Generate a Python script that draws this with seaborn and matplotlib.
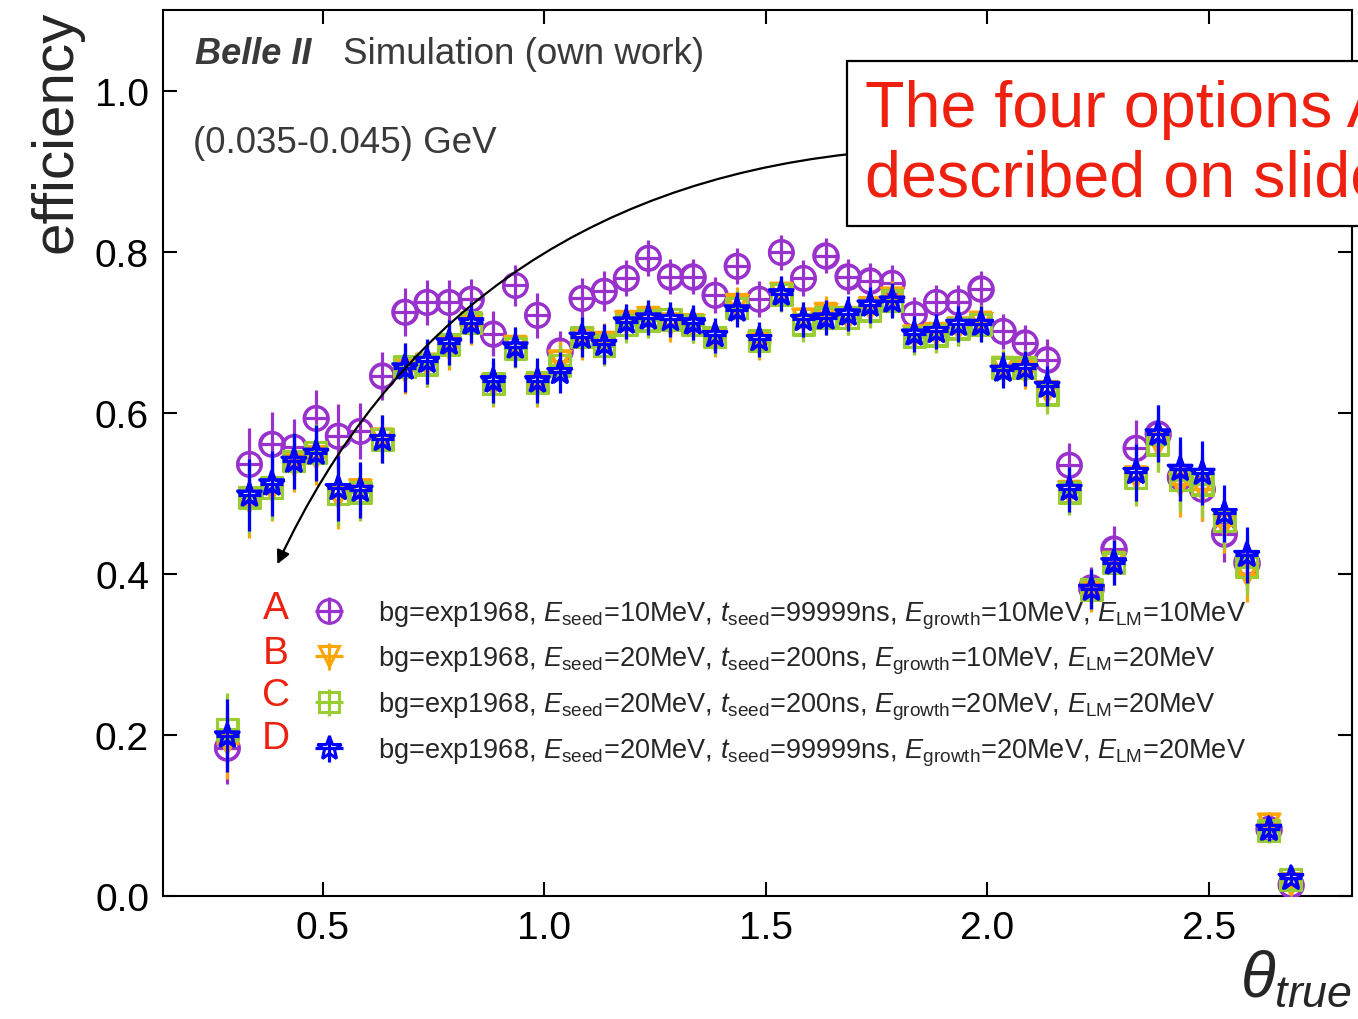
import numpy as np
import pandas as pd
import matplotlib
matplotlib.use("Agg")
import matplotlib.pyplot as plt
import seaborn as sns

# ---------------- data ----------------
theta = [0.285 + 0.05 * i for i in range(49)]

eff_A = [0.184, 0.536, 0.561, 0.557, 0.593, 0.571, 0.577, 0.646, 0.725, 0.737,
         0.737, 0.741, 0.698, 0.758, 0.721, 0.677, 0.742, 0.751, 0.767, 0.792,
         0.769, 0.769, 0.746, 0.782, 0.741, 0.799, 0.767, 0.795, 0.769, 0.764,
         0.761, 0.722, 0.737, 0.737, 0.754, 0.701, 0.687, 0.666, 0.535, 0.383,
         0.431, 0.556, 0.574, 0.520, 0.505, 0.450, 0.414, 0.083, 0.014]
eff_B = [0.190, 0.490, 0.505, 0.536, 0.545, 0.496, 0.504, 0.567, 0.653, 0.660,
         0.681, 0.709, 0.635, 0.682, 0.635, 0.664, 0.691, 0.687, 0.713, 0.718,
         0.710, 0.709, 0.691, 0.734, 0.687, 0.748, 0.716, 0.723, 0.718, 0.730,
         0.742, 0.695, 0.698, 0.705, 0.712, 0.656, 0.652, 0.626, 0.502, 0.378,
         0.414, 0.520, 0.561, 0.511, 0.505, 0.461, 0.400, 0.089, 0.015]
eff_C = [0.207, 0.495, 0.507, 0.540, 0.551, 0.499, 0.501, 0.567, 0.657, 0.660,
         0.685, 0.712, 0.636, 0.680, 0.638, 0.659, 0.694, 0.683, 0.709, 0.715,
         0.716, 0.709, 0.694, 0.730, 0.690, 0.747, 0.710, 0.718, 0.718, 0.727,
         0.739, 0.694, 0.696, 0.705, 0.710, 0.656, 0.656, 0.623, 0.501, 0.381,
         0.414, 0.519, 0.561, 0.517, 0.511, 0.466, 0.409, 0.081, 0.021]
eff_D = [0.199, 0.498, 0.512, 0.540, 0.550, 0.506, 0.504, 0.567, 0.656, 0.664,
         0.687, 0.712, 0.640, 0.682, 0.640, 0.650, 0.694, 0.685, 0.713, 0.718,
         0.716, 0.712, 0.696, 0.728, 0.691, 0.748, 0.716, 0.718, 0.723, 0.734,
         0.739, 0.698, 0.701, 0.710, 0.710, 0.653, 0.655, 0.633, 0.505, 0.381,
         0.414, 0.526, 0.574, 0.530, 0.525, 0.475, 0.423, 0.083, 0.022]
err = [0.045, 0.045, 0.040, 0.035, 0.035, 0.040, 0.035, 0.030, 0.030, 0.028,
       0.028, 0.025, 0.028, 0.025, 0.028, 0.025, 0.025, 0.025, 0.022, 0.022,
       0.022, 0.022, 0.022, 0.022, 0.022, 0.022, 0.022, 0.022, 0.022, 0.022,
       0.022, 0.022, 0.022, 0.022, 0.022, 0.022, 0.022, 0.025, 0.028, 0.025,
       0.028, 0.035, 0.035, 0.040, 0.040, 0.035, 0.035, 0.015, 0.008]

labels = [
    r"bg=exp1968, $E_{\rm seed}$=10MeV, $t_{\rm seed}$=99999ns, $E_{\rm growth}$=10MeV, $E_{\rm LM}$=10MeV",
    r"bg=exp1968, $E_{\rm seed}$=20MeV, $t_{\rm seed}$=200ns, $E_{\rm growth}$=10MeV, $E_{\rm LM}$=20MeV",
    r"bg=exp1968, $E_{\rm seed}$=20MeV, $t_{\rm seed}$=200ns, $E_{\rm growth}$=20MeV, $E_{\rm LM}$=20MeV",
    r"bg=exp1968, $E_{\rm seed}$=20MeV, $t_{\rm seed}$=99999ns, $E_{\rm growth}$=20MeV, $E_{\rm LM}$=20MeV",
]
letters = ["A", "B", "C", "D"]
series = [eff_A, eff_B, eff_C, eff_D]

colors = ["#9932CC", "#FFA500", "#9ACD32", "#0000FF"]
markers = ["o", "v", "s", "*"]
msizes = [17, 15, 15, 18]

# ---------------- style ----------------
sns.set_theme(style="ticks")
plt.rcParams["font.family"] = ["Liberation Sans", "DejaVu Sans"]
plt.rcParams["mathtext.fontset"] = "custom"
plt.rcParams["mathtext.rm"] = "Liberation Sans"
plt.rcParams["mathtext.it"] = "Liberation Sans:italic"
plt.rcParams["mathtext.bf"] = "Liberation Sans:bold"

fig = plt.figure(figsize=(13.58, 10.20), dpi=100)
ax = fig.add_axes([163 / 1358, 1 - 897 / 1020, (1352 - 163) / 1358, (897 - 11) / 1020])

handles = []
for k in range(4):
    df = pd.DataFrame({"theta": theta, "eff": series[k]})
    h = ax.errorbar(df["theta"], df["eff"], yerr=err, xerr=0.026, fmt=markers[k],
                    color=colors[k], mfc="none", mec=colors[k], ms=msizes[k],
                    mew=2.2, elinewidth=2.3, capsize=0, zorder=3 + k)
    sns.scatterplot(data=df, x="theta", y="eff", marker=markers[k],
                    s=msizes[k] ** 2, facecolors="none", edgecolor=colors[k],
                    color=colors[k], linewidth=2.2, ax=ax, zorder=3 + k, legend=False)
    handles.append(h)

ax.set_xlim(0.14, 2.823)
ax.set_ylim(0.0, 1.1)
ax.set_xticks([0.5, 1.0, 1.5, 2.0, 2.5])
ax.set_yticks([0.0, 0.2, 0.4, 0.6, 0.8, 1.0])
ax.tick_params(direction="in", length=10, width=1.5, top=True, right=True,
               labelsize=28, pad=10, colors="black")
for sp in ax.spines.values():
    sp.set_linewidth(1.5)
    sp.set_color("black")

ax.set_ylabel("efficiency", fontsize=42, loc="top", labelpad=8)
ax.set_xlabel(r"$\theta_{true}$", fontsize=46, loc="right", labelpad=2)

# legend
leg = ax.legend(handles, labels, loc="upper left", bbox_to_anchor=(0.118, 0.336),
                frameon=False, fontsize=19.5, handlelength=1.9, handletextpad=0.85,
                labelspacing=0.5, borderaxespad=0, borderpad=0)

for k, lt in enumerate(letters):
    ax.text(0.394, [0.358, 0.302, 0.250, 0.196][k], lt, color="#EE2010",
            fontsize=28, ha="center", va="center")

# header texts
ax.text(0.027, 0.951, "Belle II", transform=ax.transAxes, fontsize=26,
        fontweight="bold", fontstyle="italic", color="#3a3a3a", va="center")
ax.text(0.1514, 0.951, "Simulation (own work)", transform=ax.transAxes, fontsize=26.5,
        color="#3a3a3a", va="center")
ax.text(0.025, 0.851, "(0.035-0.045) GeV", transform=ax.transAxes, fontsize=26.5,
        color="#3a3a3a", va="center")

# annotation box and arrow
ax.text(1.687 + 0.036, 0.934, "The four options A\u2013D are\ndescribed on slides",
        fontsize=46.5, color="#EE2010", ha="left", va="center", linespacing=1.22,
        bbox=dict(boxstyle="square,pad=0.27", fc="white", ec="black", lw=1.6),
        clip_on=False, zorder=10)
ax.annotate("", xy=(0.398, 0.412), xytext=(1.687, 0.921),
            arrowprops=dict(arrowstyle="-|>", color="black", lw=1.6,
                            mutation_scale=20,
                            connectionstyle="arc3,rad=0.28",
                            shrinkA=0, shrinkB=0), zorder=9)

fig.savefig("out.png", dpi=100)
